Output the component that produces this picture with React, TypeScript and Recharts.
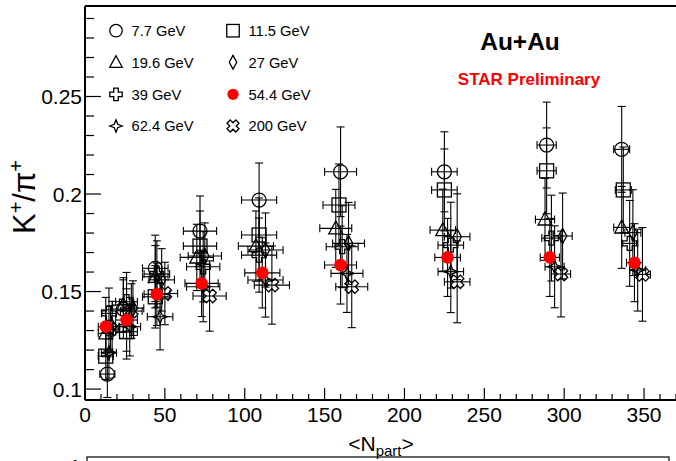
import { ScatterChart, Scatter, XAxis, YAxis, ErrorBar, ReferenceLine, Legend, Label } from 'recharts';

// <Npart> per centrality bin (70-80% ... 0-5%) and K+/pi+ values
const npart7 = [14, 24, 44, 72, 109, 160, 225, 289, 336];
const ratio7 = [0.1077, 0.141, 0.1619, 0.181, 0.1969, 0.2114, 0.2114, 0.2251, 0.2229];
const err7 = [0.012, 0.015, 0.017, 0.018, 0.019, 0.023, 0.0205, 0.022, 0.022];

const npart11 = [13, 26, 44, 72, 109, 159, 225, 289, 337];
const ratio11 = [0.1169, 0.1294, 0.1473, 0.1733, 0.179, 0.1944, 0.2021, 0.2119, 0.2021];
const err11 = [0.012, 0.014, 0.016, 0.018, 0.019, 0.021, 0.021, 0.022, 0.022];

const npart19 = [13, 24, 44, 70, 107, 157, 224, 288, 336];
const ratio19 = [0.1286, 0.1431, 0.1576, 0.1675, 0.1733, 0.1824, 0.1815, 0.187, 0.1829];
const err19 = [0.012, 0.014, 0.016, 0.017, 0.018, 0.02, 0.021, 0.021, 0.021];

const npart27 = [17, 30, 48, 75, 113, 165, 233, 299, 343];
const ratio27 = [0.132, 0.1415, 0.156, 0.1682, 0.1713, 0.1747, 0.1781, 0.1785, 0.1802];
const err27 = [0.013, 0.014, 0.016, 0.017, 0.019, 0.021, 0.022, 0.022, 0.022];

const npart39 = [15, 26, 45, 74, 109, 161, 229, 292, 341];
const ratio39 = [0.1388, 0.1448, 0.159, 0.1627, 0.1687, 0.173, 0.1738, 0.1774, 0.1747];
const err39 = [0.013, 0.015, 0.017, 0.018, 0.019, 0.021, 0.022, 0.022, 0.022];

const npart54 = [13, 26, 45, 73, 111, 160, 227, 291, 344];
const ratio54 = [0.132, 0.1354, 0.1486, 0.1542, 0.1596, 0.1636, 0.1675, 0.1675, 0.1648];
const err54 = [0.015, 0.016, 0.016, 0.017, 0.018, 0.02, 0.02, 0.02, 0.02];

const npart62 = [15, 28, 47, 74, 113, 164, 229, 294, 346];
const ratio62 = [0.1186, 0.132, 0.1371, 0.1525, 0.1559, 0.1593, 0.1602, 0.1627, 0.161];
const err62 = [0.013, 0.015, 0.017, 0.018, 0.019, 0.02, 0.021, 0.021, 0.021];

const npart200 = [16, 29, 50, 78, 117, 167, 233, 298, 349];
const ratio200 = [0.1307, 0.14, 0.149, 0.1477, 0.1533, 0.1525, 0.155, 0.159, 0.1588];
const err200 = [0.012, 0.014, 0.016, 0.018, 0.02, 0.021, 0.021, 0.022, 0.024];

// horizontal (Npart) uncertainty per centrality bin
const npartErr = [4.7, 6.8, 8, 10.4, 11, 10, 8, 6, 5];

const xMajor = [0, 50, 100, 150, 200, 250, 300, 350];
const yMajor = [0.1, 0.15, 0.2, 0.25];

const X_MAX = 370;
const Y_MIN = 0.0944;
const Y_MAX = 0.2964;
const FONT = '"Liberation Sans", Arial, Helvetica, sans-serif';

type Kind = 'circle' | 'square' | 'triangle' | 'diamond' | 'cross' | 'dot' | 'star' | 'xcross';

const build = (np: number[], r: number[], e: number[]) =>
  np.map((x, i) => ({ x, y: r[i], ex: npartErr[i], ey: e[i] }));

const series: { name: string; kind: Kind; data: any[] }[] = [
  { name: '7.7 GeV', kind: 'circle', data: build(npart7, ratio7, err7) },
  { name: '11.5 GeV', kind: 'square', data: build(npart11, ratio11, err11) },
  { name: '19.6 GeV', kind: 'triangle', data: build(npart19, ratio19, err19) },
  { name: '27 GeV', kind: 'diamond', data: build(npart27, ratio27, err27) },
  { name: '39 GeV', kind: 'cross', data: build(npart39, ratio39, err39) },
  { name: '62.4 GeV', kind: 'star', data: build(npart62, ratio62, err62) },
  { name: '200 GeV', kind: 'xcross', data: build(npart200, ratio200, err200) },
  { name: '54.4 GeV', kind: 'dot', data: build(npart54, ratio54, err54) },
];

// legend order as in the figure (two columns)
const legendOrder = ['7.7 GeV', '11.5 GeV', '19.6 GeV', '27 GeV', '39 GeV', '54.4 GeV', '62.4 GeV', '200 GeV'];

function Marker({ kind, cx, cy, s = 14 }: { kind: Kind; cx: number; cy: number; s?: number }) {
  const h = s / 2;
  const st = { fill: 'none', stroke: '#000', strokeWidth: 1.3 };
  if (kind === 'circle') return <circle cx={cx} cy={cy} r={h} {...st} />;
  if (kind === 'square') return <rect x={cx - h} y={cy - h} width={s} height={s} {...st} />;
  if (kind === 'triangle')
    return <polygon points={`${cx},${cy - h * 1.05} ${cx + h},${cy + h * 0.8} ${cx - h},${cy + h * 0.8}`} {...st} />;
  if (kind === 'diamond')
    return <polygon points={`${cx},${cy - h * 1.1} ${cx + h * 0.6},${cy} ${cx},${cy + h * 1.1} ${cx - h * 0.6},${cy}`} {...st} />;
  if (kind === 'dot') return <circle cx={cx} cy={cy} r={h * 0.9} fill="#ff0000" stroke="none" />;
  if (kind === 'star') {
    const k = h * 0.28;
    return (
      <path
        d={`M${cx} ${cy - h}L${cx + k} ${cy - k}L${cx + h} ${cy}L${cx + k} ${cy + k}L${cx} ${cy + h}L${cx - k} ${cy + k}L${cx - h} ${cy}L${cx - k} ${cy - k}Z`}
        {...st}
      />
    );
  }
  // open cross, rotated 45 degrees for 200 GeV
  const a = h * 0.36;
  const d = `M${cx - a} ${cy - h}L${cx + a} ${cy - h}L${cx + a} ${cy - a}L${cx + h} ${cy - a}L${cx + h} ${cy + a}L${cx + a} ${cy + a}L${cx + a} ${cy + h}L${cx - a} ${cy + h}L${cx - a} ${cy + a}L${cx - h} ${cy + a}L${cx - h} ${cy - a}L${cx - a} ${cy - a}Z`;
  if (kind === 'xcross') return <path d={d} transform={`rotate(45 ${cx} ${cy})`} {...st} />;
  return <path d={d} {...st} />;
}

const xTicks: number[] = [];
for (let v = 0; v <= X_MAX; v += 10) xTicks.push(v);
const yTicks: number[] = [];
for (let i = 10; i <= 29; i++) yTicks.push(i / 100);

function XTick({ x, y, payload }: any) {
  const major = xMajor.includes(payload.value);
  return (
    <g>
      <line x1={x} x2={x} y1={y} y2={y - (major ? 12 : 6)} stroke="#000" strokeWidth={1.2} />
      {major && (
        <text x={x} y={y + 22} textAnchor="middle" fontSize={21} fontFamily={FONT} fill="#000">
          {payload.value}
        </text>
      )}
    </g>
  );
}

function YTick({ x, y, payload }: any) {
  const major = yMajor.some((m) => Math.abs(m - payload.value) < 1e-6);
  return (
    <g>
      <line x1={x} x2={x + (major ? 16 : 9)} y1={y} y2={y} stroke="#000" strokeWidth={1.2} />
      {major && (
        <text x={x - 3} y={y + 7.5} textAnchor="end" fontSize={21} fontFamily={FONT} fill="#000">
          {payload.value}
        </text>
      )}
    </g>
  );
}

function LegendBox() {
  const cols = [116, 233];
  const rows = [30.7, 62.3, 94.3, 126];
  const byName = Object.fromEntries(series.map((s) => [s.name, s.kind]));
  return (
    <svg width={360} height={140} style={{ display: 'block' }}>
      {legendOrder.map((name, i) => {
        const cx = cols[i % 2];
        const cy = rows[Math.floor(i / 2)];
        return (
          <g key={name}>
            <Marker kind={byName[name]} cx={cx} cy={cy} s={12.5} />
            <text x={cx + 15.5} y={cy + 5.2} fontSize={14.7} fontFamily={FONT} fill="#000">
              {name}
            </text>
          </g>
        );
      })}
    </svg>
  );
}

export default function App() {
  return (
    <div style={{ position: 'absolute', left: 0, top: 0, width: 676, height: 461, overflow: 'hidden', background: '#fff' }}>
      <ScatterChart width={676} height={461} margin={{ top: 6, right: 0, bottom: 0, left: 0 }}>
        <XAxis
          type="number"
          dataKey="x"
          domain={[0, X_MAX]}
          allowDataOverflow
          ticks={xTicks}
          interval={0}
          height={61}
          tickSize={0}
          tickMargin={0}
          tickLine={false}
          tick={<XTick />}
          axisLine={{ stroke: '#000', strokeWidth: 2 }}
        >
          <Label
            content={() => (
              <text x={381} y={451} textAnchor="middle" fontSize={21} fontFamily={FONT} fill="#000">
                {'<N'}
                <tspan fontSize={15} dy={5}>part</tspan>
                <tspan dy={-5}>{'>'}</tspan>
              </text>
            )}
          />
        </XAxis>
        <YAxis
          type="number"
          dataKey="y"
          domain={[Y_MIN, Y_MAX]}
          allowDataOverflow
          ticks={yTicks}
          interval={0}
          width={85}
          tickSize={0}
          tickMargin={0}
          tickLine={false}
          tick={<YTick />}
          axisLine={{ stroke: '#000', strokeWidth: 2 }}
        >
          <Label
            content={() => (
              <text
                x={35}
                y={197}
                transform="rotate(-90 35 197)"
                textAnchor="middle"
                fontSize={31}
                fontFamily={FONT}
                fill="#000"
              >
                K
                <tspan fontSize={20} dy={-12}>+</tspan>
                <tspan dy={12}>/π</tspan>
                <tspan fontSize={20} dy={-12}>+</tspan>
              </text>
            )}
          />
        </YAxis>
        <ReferenceLine y={Y_MAX} stroke="#000" strokeWidth={2} />
        <Legend
          layout="horizontal"
          verticalAlign="middle"
          align="center"
          wrapperStyle={{ left: 0, top: 0, width: 360, height: 140 }}
          content={() => <LegendBox />}
        />
        {series.map((s) => (
          <Scatter
            key={s.name}
            name={s.name}
            data={s.data}
            isAnimationActive={false}
            shape={(p: any) => <Marker kind={s.kind} cx={p.cx} cy={p.cy} />}
          >
            <ErrorBar dataKey="ey" direction="y" width={4} stroke="#000" strokeWidth={1.1} />
            <ErrorBar dataKey="ex" direction="x" width={4} stroke="#000" strokeWidth={1.1} />
          </Scatter>
        ))}
      </ScatterChart>
      <svg width={676} height={461} style={{ position: 'absolute', left: 0, top: 0, pointerEvents: 'none' }}>
        <text x={520} y={50} textAnchor="middle" fontSize={24.5} fontWeight="bold" fontFamily={FONT} fill="#000">
          Au+Au
        </text>
        <text x={529} y={85} textAnchor="middle" fontSize={17} fontWeight="bold" fontFamily={FONT} fill="#ff0000">
          STAR Preliminary
        </text>
        <rect x={87} y={457} width={582} height={30} fill="none" stroke="#000" strokeWidth={1.2} />
        <text x={81} y={474} textAnchor="end" fontSize={21} fontFamily={FONT} fill="#000">
          1
        </text>
      </svg>
    </div>
  );
}
